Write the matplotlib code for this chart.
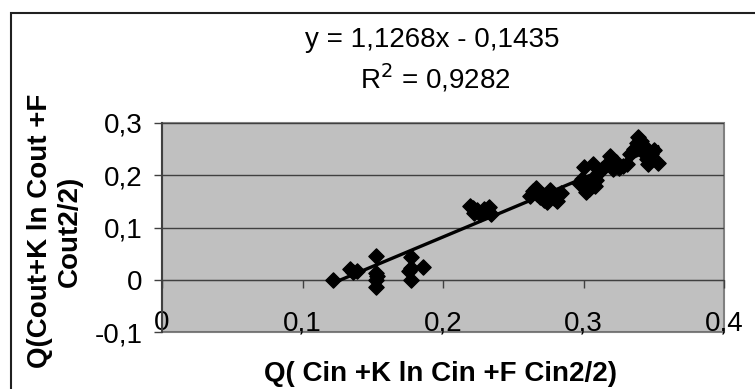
import matplotlib.pyplot as plt
import matplotlib.patches as patches
import numpy as np

plt.rcParams['font.family'] = ['Liberation Sans', 'DejaVu Sans']

# Data
x_vals = [0.122, 0.134, 0.136, 0.139, 0.152, 0.152, 0.153, 0.152, 0.152,
          0.177, 0.177, 0.176, 0.177, 0.186,
          0.219, 0.221, 0.222, 0.224, 0.226, 0.229, 0.231, 0.233, 0.234,
          0.262, 0.264, 0.266, 0.267, 0.269, 0.271, 0.272, 0.274, 0.276,
          0.278, 0.279, 0.281, 0.284,
          0.297, 0.299, 0.300, 0.301, 0.302, 0.304, 0.305, 0.307, 0.308,
          0.309, 0.310, 0.313, 0.316, 0.319, 0.321, 0.323, 0.325, 0.328, 0.331,
          0.333, 0.336, 0.338, 0.339, 0.341, 0.342, 0.344, 0.345, 0.346,
          0.348, 0.350, 0.353]
y_vals = [0.000, 0.020, 0.015, 0.017, 0.046, 0.013, 0.007, 0.000, -0.014,
          0.043, 0.022, 0.016, 0.000, 0.024,
          0.142, 0.138, 0.128, 0.133, 0.125, 0.136, 0.131, 0.139, 0.126,
          0.160, 0.170, 0.176, 0.165, 0.158, 0.163, 0.152, 0.148, 0.172,
          0.165, 0.157, 0.150, 0.166,
          0.185, 0.192, 0.215, 0.178, 0.168, 0.174, 0.185, 0.222, 0.180,
          0.190, 0.205, 0.212, 0.220, 0.236, 0.212, 0.226, 0.214, 0.218, 0.222,
          0.240, 0.250, 0.262, 0.273, 0.266, 0.245, 0.255, 0.232, 0.222,
          0.240, 0.248, 0.224]

slope = 1.1268
intercept = -0.1435
r2 = 0.9282

x_ticks = [0, 0.1, 0.2, 0.3, 0.4]
x_tick_labels = ['0', '0,1', '0,2', '0,3', '0,4']
y_ticks = [-0.1, 0, 0.1, 0.2, 0.3]
y_tick_labels = ['-0,1', '0', '0,1', '0,2', '0,3']

W, H = 755, 389
fig = plt.figure(figsize=(W / 100, H / 100), dpi=100)
ax = fig.add_axes([162 / W, 1 - 332 / H, (724 - 162) / W, (332 - 123) / H])

ax.set_facecolor('#c0c0c0')
ax.patch.set_edgecolor('#808080')
ax.patch.set_linewidth(1.5)

ax.scatter(x_vals, y_vals, marker='D', s=60, color='black', zorder=3)

xs = np.array([min(x_vals), max(x_vals)])
ax.plot(xs, slope * xs + intercept, color='black', lw=2.4, zorder=4)

ax.set_xlim(0, 0.4)
ax.set_ylim(-0.1, 0.3)

ax.grid(axis='y', color='#404040', lw=1)
ax.set_axisbelow(True)

ax.spines['bottom'].set_position(('data', 0))
ax.spines['bottom'].set_color('#404040')
ax.spines['left'].set_color('#404040')
ax.spines['left'].set_linewidth(1.5)
ax.spines['top'].set_visible(False)
ax.spines['right'].set_visible(False)

ax.set_xticks(x_ticks, x_tick_labels)
ax.set_yticks(y_ticks, y_tick_labels)
ax.tick_params(axis='x', direction='out', length=6, width=1, color='#404040',
               labelsize=20, pad=16)
ax.tick_params(axis='y', direction='out', length=6, width=1, color='#404040',
               labelsize=20, pad=8)

fig.text(440 / W, 1 - 374 / H, 'Q( Cin +K ln Cin +F Cin2/2)', fontsize=20,
         fontweight='bold', ha='center', va='center')
fig.text(55 / W, 1 - 231 / H, 'Q(Cout+K ln Cout +F\nCout2/2)', fontsize=20,
         fontweight='bold', ha='center', va='center', rotation=90,
         multialignment='center', linespacing=1.2)

eq = 'y = %sx - %s' % (str(slope).replace('.', ','), str(-intercept).replace('.', ','))
fig.text(432 / W, 1 - 47 / H, eq, fontsize=20, ha='center', va='baseline')
fig.text(435 / W, 1 - 88 / H, 'R$^2$ = ' + str(r2).replace('.', ','),
         fontsize=20, ha='center', va='baseline')

# chart area border (runs off the right and bottom edges)
frame = patches.Rectangle((11 / W, -0.5), 1.5, 1.5 - 13 / H, transform=fig.transFigure,
                          fill=False, edgecolor='#202020', lw=1.5)
fig.add_artist(frame)

plt.savefig('out.png', dpi=100)
